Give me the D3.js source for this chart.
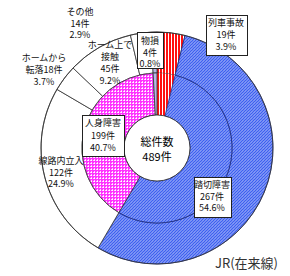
<!DOCTYPE html>
<html>
<head>
<meta charset="utf-8">
<script src="https://cdn.jsdelivr.net/npm/d3@7"></script>
<style>
  body { margin: 0; background: #fff; }
  text { font-family: "Noto Sans CJK JP", sans-serif; }
</style>
</head>
<body>
<div id="chart"></div>
<script>
// inner ring: main categories (clockwise from 12 o'clock)
const innerNames = ['列車事故', '踏切障害', '人身障害', '物損'];
const innerValues = [19, 267, 199, 4];
const innerPct = ['3.9%', '54.6%', '40.7%', '0.8%'];

// outer ring: 人身障害 split into sub-categories
const outerNames = ['列車事故', '踏切障害', '線路内立入', 'ホームから転落', 'ホーム上で接触', 'その他', '物損'];
const outerValues = [19, 267, 122, 18, 45, 14, 4];
const outerPct = ['3.9%', '54.6%', '24.9%', '3.7%', '9.2%', '2.9%', '0.8%'];

const total = 489;

const width = 290, height = 276;
const cx = 157, cy = 148;
const r0 = 33, r1 = 75, r2 = 116;

const svg = d3.select('#chart').append('svg')
  .attr('width', width)
  .attr('height', height);

const defs = svg.append('defs');

// blue diagonal hatch
const pBlue = defs.append('pattern').attr('id', 'blue')
  .attr('patternUnits', 'userSpaceOnUse').attr('width', 3).attr('height', 3);
pBlue.append('rect').attr('width', 3).attr('height', 3).attr('fill', '#ffffff');
pBlue.append('path').attr('d', 'M-1,1 L1,-1 M0,3 L3,0 M2,4 L4,2')
  .attr('stroke', '#3d5ff0').attr('stroke-width', 1.6);

// red vertical stripes
const pRed = defs.append('pattern').attr('id', 'red')
  .attr('patternUnits', 'userSpaceOnUse').attr('width', 3).attr('height', 3);
pRed.append('rect').attr('width', 3).attr('height', 3).attr('fill', '#ffffff');
pRed.append('rect').attr('width', 2).attr('height', 3).attr('fill', '#ff1010');

// pink checker
const pPink = defs.append('pattern').attr('id', 'pink')
  .attr('patternUnits', 'userSpaceOnUse').attr('width', 3).attr('height', 3);
pPink.append('rect').attr('width', 3).attr('height', 3).attr('fill', '#ff33ff');
pPink.append('rect').attr('width', 1).attr('height', 1).attr('fill', '#ffffff');
pPink.append('rect').attr('x', 2).attr('y', 0).attr('width', 1).attr('height', 1).attr('fill', '#ffccff');
pPink.append('rect').attr('x', 0).attr('y', 2).attr('width', 1).attr('height', 1).attr('fill', '#ffccff');

const fillOf = {
  '列車事故': 'url(#red)',
  '踏切障害': 'url(#blue)',
  '人身障害': 'url(#pink)',
  '物損': '#b4b8e6'
};

const g = svg.append('g').attr('transform', `translate(${cx},${cy})`);

const pie = d3.pie().sort(null).value(d => d);

// outer ring
const arcOuter = d3.arc().innerRadius(r1).outerRadius(r2);
g.selectAll('path.outer')
  .data(pie(outerValues))
  .enter().append('path')
  .attr('class', 'outer')
  .attr('d', arcOuter)
  .attr('fill', (d, i) => fillOf[outerNames[i]] || '#ffffff')
  .attr('stroke', (d, i) => i === 1 ? '#1a2a80' : '#333')
  .attr('stroke-width', 0.8);

// inner ring
const arcInner = d3.arc().innerRadius(r0).outerRadius(r1);
g.selectAll('path.inner')
  .data(pie(innerValues))
  .enter().append('path')
  .attr('class', 'inner')
  .attr('d', arcInner)
  .attr('fill', (d, i) => fillOf[innerNames[i]])
  .attr('stroke', (d, i) => i === 1 ? '#1a2a80' : (i === 0 ? 'none' : '#333'))
  .attr('stroke-width', 0.8);

// outer circle border
g.append('circle').attr('r', r2).attr('fill', 'none').attr('stroke', '#333').attr('stroke-width', 0.8);

// centre
g.append('circle').attr('r', r0).attr('fill', '#fff').attr('stroke', '#222').attr('stroke-width', 0.8);
g.append('text').attr('text-anchor', 'middle').attr('y', -2).attr('font-size', 11).text('総件数');
g.append('text').attr('text-anchor', 'middle').attr('y', 13).attr('font-size', 11).text(total + '件');

// label layout (centre x, first line y, line step, optional box)
const labelLayout = {
  'その他': { x: 80, y: 15, step: 11.5, lines: ['その他'] },
  'ホーム上で接触': { x: 110, y: 48, step: 12, lines: ['ホーム上で', '接触'] },
  'ホームから転落': { x: 44, y: 61, step: 12, lines: ['ホームから', '転落'] },
  '線路内立入': { x: 61, y: 164, step: 11.5, lines: ['線路内立入'] },
  '物損': { x: 150, y: 44, step: 11.5, lines: ['物損'], box: [137, 32, 26, 36] },
  '列車事故': { x: 226, y: 26, step: 12, lines: ['列車事故'], box: [206, 15, 41, 40] },
  '人身障害': { x: 103, y: 126, step: 12.5, lines: ['人身障害'], box: [82, 115, 42, 41] },
  '踏切障害': { x: 212, y: 188, step: 11.5, lines: ['踏切障害'], box: [194, 177, 37, 40] }
};

const labels = [];
outerNames.forEach((n, i) => {
  if (n === '列車事故' || n === '踏切障害' || n === '物損') return;
  labels.push({ name: n, value: outerValues[i], pct: outerPct[i] });
});
innerNames.forEach((n, i) => labels.push({ name: n, value: innerValues[i], pct: innerPct[i] }));

labels.forEach(l => {
  const L = labelLayout[l.name];
  let lines = L.lines.slice();
  if (l.name === 'ホームから転落') {
    lines = ['ホームから', '転落' + l.value + '件', l.pct];
  } else {
    lines.push(l.value + '件', l.pct);
  }
  if (L.box) {
    svg.append('rect')
      .attr('x', L.box[0] + 0.5).attr('y', L.box[1] + 0.5)
      .attr('width', L.box[2]).attr('height', L.box[3])
      .attr('fill', '#fff').attr('stroke', '#222').attr('stroke-width', 1);
  }
  lines.forEach((t, k) => {
    svg.append('text')
      .attr('x', L.x).attr('y', L.y + k * L.step)
      .attr('text-anchor', 'middle')
      .attr('font-size', 9)
      .attr('fill', '#111')
      .text(t);
  });
});

svg.append('text')
  .attr('x', 215).attr('y', 268)
  .attr('font-size', 13)
  .attr('fill', '#333')
  .text('JR(在来線)');
</script>
</body>
</html>
